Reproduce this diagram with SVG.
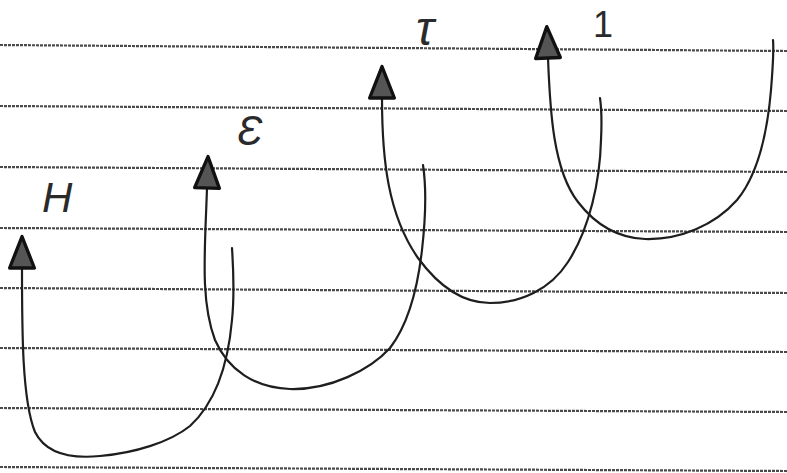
<svg xmlns="http://www.w3.org/2000/svg" width="787" height="473" viewBox="0 0 787 473">
  <style>
    .rule { stroke: #4a4a4a; stroke-width: 2.2; stroke-dasharray: 3 1; fill: none; }
    .curve { stroke: #1e1e1e; stroke-width: 2.2; fill: none; stroke-linecap: round; marker-start: url(#tri); }
    .lbl { font-family: "Liberation Sans", "DejaVu Sans", sans-serif; font-style: italic; fill: #2a2a2a; }
    .upright { font-style: normal; }
  </style>
  <defs>
    <marker id="tri" markerUnits="userSpaceOnUse" markerWidth="40" markerHeight="40" viewBox="-4 -18 42 36" refX="0" refY="0" orient="auto-start-reverse" overflow="visible">
      <polygon points="0,-13 33,0 0,13" fill="#555" stroke="#111" stroke-width="3.5" stroke-linejoin="round"/>
    </marker>
  </defs>
  <rect width="787" height="473" fill="#ffffff"/>
  <g id="rules">
    <line class="rule" x1="0" y1="45" x2="787" y2="51"/>
    <line class="rule" x1="0" y1="106" x2="787" y2="111"/>
    <line class="rule" x1="0" y1="167" x2="787" y2="172"/>
    <line class="rule" x1="0" y1="228" x2="787" y2="232"/>
    <line class="rule" x1="0" y1="288" x2="787" y2="293"/>
    <line class="rule" x1="0" y1="348" x2="787" y2="352"/>
    <line class="rule" x1="0" y1="408" x2="787" y2="412"/>
    <line class="rule" x1="0" y1="467" x2="787" y2="471"/>
  </g>
  <g id="connectors">
    <path class="curve" d="M22,268 C22,330 22,400 35,432 C48,458 80,458 100,456 C135,453 170,442 190,426 C215,403 228,365 232,320 C235,290 233,265 232,248"/>
    <path class="curve" d="M207,188 C205,250 200,300 215,340 C228,370 255,388 290,389 C330,390 370,370 390,348 C410,322 418,285 422,250 C426,215 426,185 423,165"/>
    <path class="curve" d="M382,98 C382,160 388,215 418,258 C440,288 465,303 490,303 C520,303 550,290 568,262 C590,228 600,180 601,140 C602,120 601,105 600,98"/>
    <path class="curve" d="M548,58 C550,110 553,170 578,202 C598,228 620,238 645,239 C680,240 715,225 737,200 C760,172 768,125 771,90 C773,65 774,50 773,40"/>
  </g>
  <g id="label-4"><text class="lbl" x="42" y="212" font-size="42">H</text></g>
  <g id="label-3"><text class="lbl" x="237" y="145" font-size="42">Ɛ</text></g>
  <g id="label-2"><text class="lbl" x="416" y="45" font-size="48">τ</text></g>
  <g id="label-1"><text class="lbl upright" x="593" y="37" font-size="36">1</text></g>
</svg>
